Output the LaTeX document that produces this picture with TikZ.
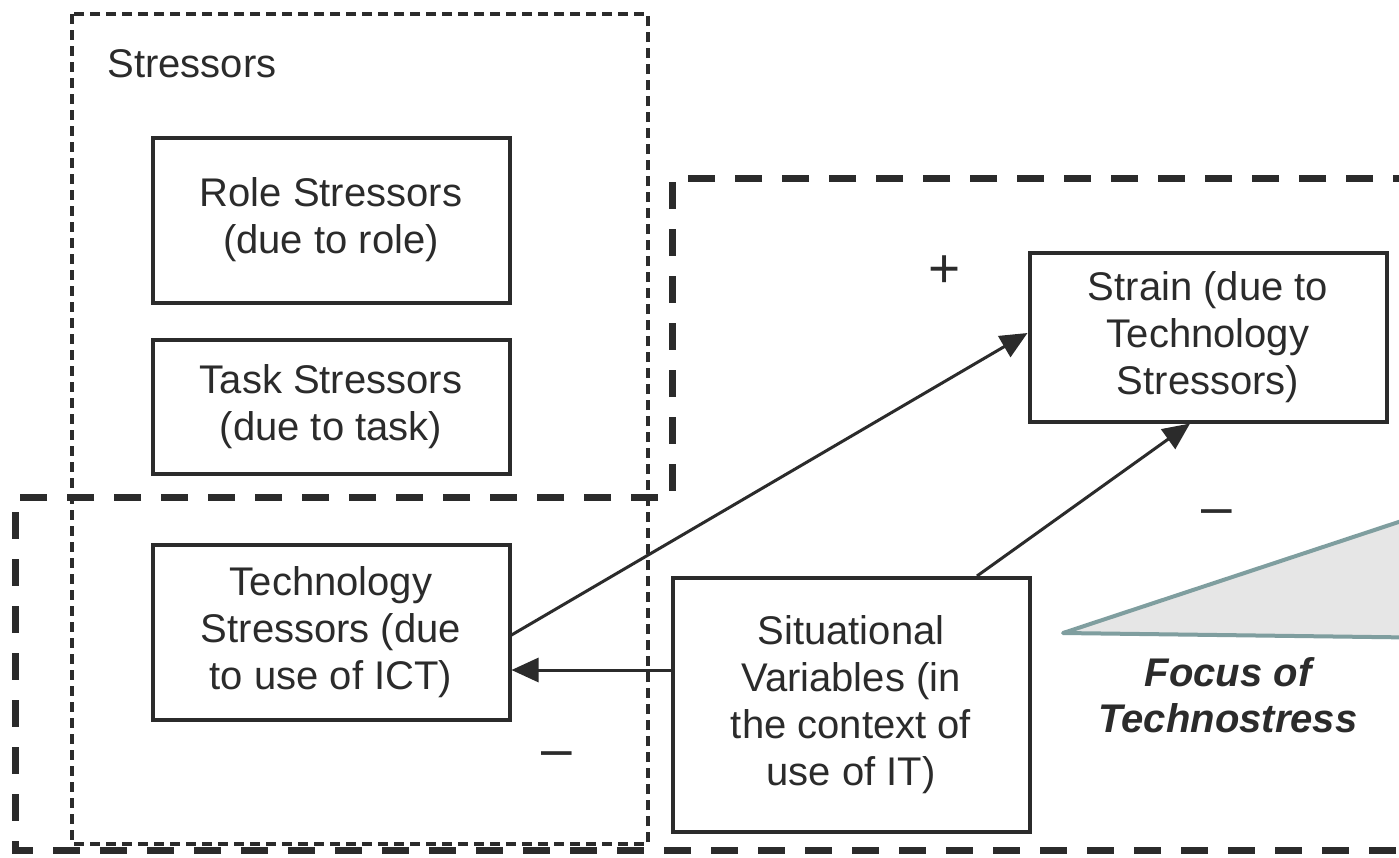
\documentclass[tikz,border=0pt]{standalone}
\usepackage{fontspec}
\setmainfont{Liberation Sans}
\usetikzlibrary{positioning,arrows.meta}
\definecolor{ink}{HTML}{2B2B2B}
\definecolor{focusedge}{HTML}{7F9E9F}
\definecolor{focusfill}{HTML}{E6E6E6}

\begin{document}
\begin{tikzpicture}[
  x=1pt,y=-1pt,
  box/.style={draw=ink,line width=4pt,minimum width=357pt,inner sep=0pt,align=center,
    font=\fontsize{40}{47}\selectfont,text=ink},
  arr/.style={-{Triangle[length=27pt,width=24pt]},line width=3pt,draw=ink},
  sign/.style={font=\fontsize{55}{60}\selectfont,text=ink,inner sep=0pt},
  stressline/.style={draw=ink,line width=3.5pt,dash pattern=on 10pt off 6pt},
  focusline/.style={draw=ink,line width=7pt,dash pattern=on 27pt off 20pt}
]
\path[use as bounding box,clip] (0,0) rectangle (1399,857);
\fill[white] (0,0) rectangle (1399,857);
\draw[focusline] (1420,178) -- (672,178) -- (672,497) -- (15,497) -- (15,850) -- (1420,850);
\draw[stressline] (72,14) rectangle (648,844);
\node[anchor=base west,font=\fontsize{40}{47}\selectfont,text=ink] (stresslabel) at (104,77) {Stressors};
\node[box,minimum height=165pt] (role) at (331,220) {Role Stressors\\(due to role)};
\node[box,minimum height=134pt,below=33pt of role] (task) {Task Stressors\\(due to task)};
\node[box,minimum height=175pt,below=67pt of task] (tech) {Technology\\Stressors (due\\to use of ICT)};
\node[box,minimum height=254pt] (situ) at (851,705) {Situational\\Variables (in\\the context of\\use of IT)};
\node[box,minimum height=169pt] (strain) at (1208,337) {Strain (due to\\Technology\\Stressors)};
\filldraw[fill=focusfill,draw=focusedge,line width=4pt,line join=round] (1063,633) -- (1450,505) -- (1450,638) -- cycle;
\node[font=\fontsize{40}{46}\selectfont\bfseries\itshape,text=ink,align=center] (focus) at (1228,695) {Focus of\\Technostress};
\coordinate (techin) at ([yshift=-38pt]tech.east);
\draw[arr] ([yshift=-3pt]tech.east) -- ([yshift=4pt]strain.west);
\draw[arr] ([xshift=126pt]situ.north) -- ([xshift=-18pt]strain.south);
\draw[arr] (techin -| situ.west) -- (techin);
\node[sign] (plus) at (945,272) {+};
\node[sign] (minusa) at (1217,518) {–};
\node[sign] (minusb) at (557,760) {–};
\end{tikzpicture}
\end{document}
